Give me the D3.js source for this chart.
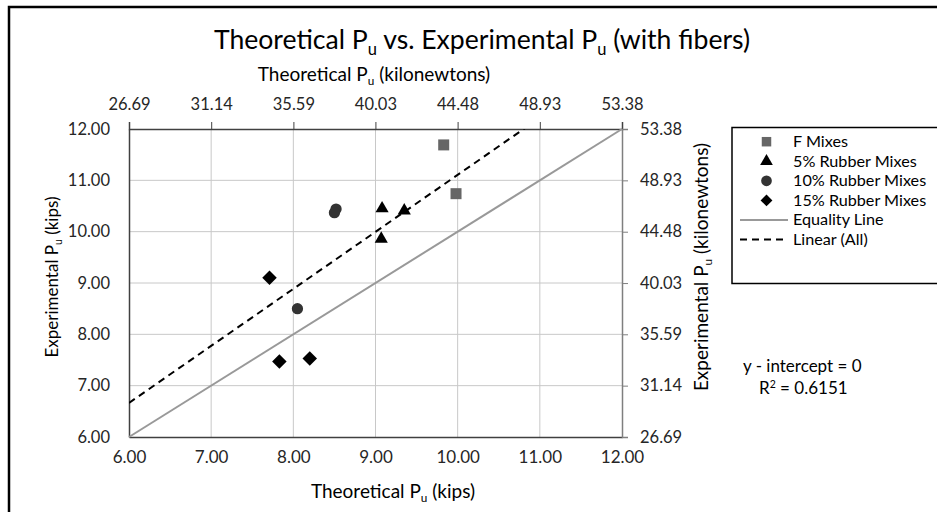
<!DOCTYPE html>
<html><head><meta charset="utf-8">
<script src="https://cdn.jsdelivr.net/npm/d3@7"></script>
<style>
body{margin:0;background:#fff;}
svg text{font-family:Lato,"Open Sans",sans-serif;}
</style></head>
<body><svg id="c" width="937" height="512"></svg>
<script>
// ---- data ----
const fMixesX = [9.83, 9.98];
const fMixesY = [11.69, 10.74];
const rubber5X = [9.08, 9.35, 9.07];
const rubber5Y = [10.45, 10.41, 9.86];
const rubber10X = [8.52, 8.50, 8.05];
const rubber10Y = [10.44, 10.37, 8.50];
const rubber15X = [7.71, 7.83, 8.20];
const rubber15Y = [9.10, 7.47, 7.53];
const kipsTicks = [6, 7, 8, 9, 10, 11, 12];
const kNTicks = [26.69, 31.14, 35.59, 40.03, 44.48, 48.93, 53.38];
const legendLabels = ["F Mixes", "5% Rubber Mixes", "10% Rubber Mixes", "15% Rubber Mixes", "Equality Line", "Linear (All)"];
const rSquared = "0.6151";

const svg = d3.select("#c");
const L = 129, R = 622, T = 129, B = 437;
const x = d3.scaleLinear().domain([6, 12]).range([L, R]);
const y = d3.scaleLinear().domain([6, 12]).range([B, T]);
const xk = d3.scaleLinear().domain([26.69, 53.38]).range([L, R]);
const yk = d3.scaleLinear().domain([26.69, 53.38]).range([B, T]);

// chart border
svg.append("rect").attr("x", 9).attr("y", 7).attr("width", 1000).attr("height", 600)
  .attr("fill", "none").attr("stroke", "#000").attr("stroke-width", 2.5);

// gridlines
svg.append("g").selectAll("line").data(kipsTicks.slice(1, -1)).join("line")
  .attr("x1", d => x(d)).attr("x2", d => x(d)).attr("y1", T).attr("y2", B)
  .attr("stroke", "#c8c8c8").attr("stroke-width", 1);
svg.append("g").selectAll("line").data(kipsTicks.slice(1, -1)).join("line")
  .attr("y1", d => y(d)).attr("y2", d => y(d)).attr("x1", L).attr("x2", R)
  .attr("stroke", "#c8c8c8").attr("stroke-width", 1);

// axes
const fmt = d3.format(".2f");
const bottomAx = svg.append("g").attr("transform", `translate(0,${B})`)
  .call(d3.axisBottom(x).tickValues(kipsTicks).tickFormat(fmt).tickSize(0).tickPadding(14));
const leftAx = svg.append("g").attr("transform", `translate(${L},0)`)
  .call(d3.axisLeft(y).tickValues(kipsTicks).tickFormat(fmt).tickSize(0).tickPadding(19));
const topAx = svg.append("g").attr("transform", `translate(0,${T})`)
  .call(d3.axisTop(xk).tickValues(kNTicks).tickFormat(fmt).tickSize(7).tickPadding(12));
const rightAx = svg.append("g").attr("transform", `translate(${R},0)`)
  .call(d3.axisRight(yk).tickValues(kNTicks).tickFormat(fmt).tickSize(6).tickPadding(12));
[bottomAx, leftAx, topAx, rightAx].forEach(g => {
  g.selectAll("text").attr("font-size", 16.5).attr("fill", "#262626")
    .attr("font-family", "Lato,'Open Sans',sans-serif");
  g.select(".domain").attr("stroke", "#404040").attr("stroke-width", 1.5);
  g.selectAll(".tick line").attr("stroke", "#404040");
});
bottomAx.selectAll("text").attr("font-size", 17);
rightAx.select(".domain").attr("stroke", "#7f7f7f");
rightAx.selectAll(".tick line").attr("stroke", "#7f7f7f");

// clip
svg.append("clipPath").attr("id", "clip").append("rect")
  .attr("x", L).attr("y", T).attr("width", R - L).attr("height", B - T);

// equality line
svg.append("line").attr("x1", x(6)).attr("y1", y(6)).attr("x2", x(12)).attr("y2", y(12))
  .attr("stroke", "#999").attr("stroke-width", 2);

// linear fit through origin
const allX = [...fMixesX, ...rubber5X, ...rubber10X, ...rubber15X];
const allY = [...fMixesY, ...rubber5Y, ...rubber10Y, ...rubber15Y];
const slope = d3.sum(allX, (d, i) => d * allY[i]) / d3.sum(allX, d => d * d);
svg.append("line").attr("clip-path", "url(#clip)")
  .attr("x1", x(6)).attr("y1", y(6 * slope)).attr("x2", x(12)).attr("y2", y(12 * slope))
  .attr("stroke", "#000").attr("stroke-width", 2).attr("stroke-dasharray", "7,5");

// markers
const sq = d3.symbol().type(d3.symbolSquare).size(121);
const tri = d3.symbol().type(d3.symbolTriangle).size(75);
const cir = d3.symbol().type(d3.symbolCircle).size(100);
const dia = d3.symbol().type(d3.symbolSquare).size(105);
function series(xs, ys, sym, color, rot) {
  svg.append("g").selectAll("path").data(xs).join("path")
    .attr("d", sym).attr("fill", color)
    .attr("transform", (d, i) => `translate(${x(d)},${y(ys[i])})` + (rot ? " rotate(45)" : ""));
}
series(fMixesX, fMixesY, sq, "#666");
series(rubber5X, rubber5Y, tri, "#000");
series(rubber10X, rubber10Y, cir, "#333");
series(rubber15X, rubber15Y, dia, "#000", true);

function lab(xPos, yPos, parts, size, anchor, rotate) {
  const t = svg.append("text").attr("x", xPos).attr("y", yPos)
    .attr("font-size", size).attr("fill", "#000").attr("text-anchor", anchor || "middle");
  if (rotate) t.attr("transform", `rotate(-90,${xPos},${yPos})`);
  let shifted = false;
  parts.forEach(p => {
    if (p === "_u") {
      t.append("tspan").text("u").attr("font-size", size * 0.62).attr("dy", size * 0.22);
      shifted = true;
    } else {
      t.append("tspan").text(p).attr("dy", shifted ? -size * 0.22 : 0);
      shifted = false;
    }
  });
  return t;
}
lab(482, 49, ["Theoretical P", "_u", " vs. Experimental P", "_u", " (with fibers)"], 26.6);
lab(374, 81, ["Theoretical P", "_u", " (kilonewtons)"], 19);
lab(393, 498, ["Theoretical P", "_u", " (kips)"], 19);
lab(58, 277, ["Experimental P", "_u", " (kips)"], 17, "middle", true);
lab(708, 267, ["Experimental P", "_u", " (kilonewtons)"], 19, "middle", true);

// annotation
svg.append("text").attr("x", 743).attr("y", 372).attr("font-size", 17).attr("fill", "#000")
  .text("y - intercept = 0");
const r2 = svg.append("text").attr("x", 759).attr("y", 394).attr("font-size", 17).attr("fill", "#000");
r2.append("tspan").text("R");
r2.append("tspan").text("2").attr("font-size", 10.5).attr("dy", -6.5);
r2.append("tspan").text(" = " + rSquared).attr("dy", 6.5);

// legend
const lg = svg.append("g");
lg.append("rect").attr("x", 732).attr("y", 127.5).attr("width", 300).attr("height", 156)
  .attr("fill", "#fff").attr("stroke", "#000").attr("stroke-width", 1.5);
const rowY = d3.scaleLinear().domain([0, 5]).range([141.7, 239.5]);
const legSyms = [
  {s: d3.symbol().type(d3.symbolSquare).size(90), c: "#666", r: 0},
  {s: d3.symbol().type(d3.symbolTriangle).size(70), c: "#000", r: 0},
  {s: d3.symbol().type(d3.symbolCircle).size(90), c: "#333", r: 0},
  {s: d3.symbol().type(d3.symbolSquare).size(70), c: "#000", r: 45}
];
legendLabels.forEach((lbl, i) => {
  const yy = rowY(i);
  if (i < 4) {
    lg.append("path").attr("d", legSyms[i].s).attr("fill", legSyms[i].c)
      .attr("transform", `translate(766.5,${yy}) rotate(${legSyms[i].r})`);
  } else if (i === 4) {
    lg.append("line").attr("x1", 740).attr("x2", 788).attr("y1", yy).attr("y2", yy)
      .attr("stroke", "#999").attr("stroke-width", 2);
  } else {
    lg.append("line").attr("x1", 740).attr("x2", 788).attr("y1", yy).attr("y2", yy)
      .attr("stroke", "#000").attr("stroke-width", 2).attr("stroke-dasharray", "7,5");
  }
  lg.append("text").attr("x", 793).attr("y", yy + 5.5).attr("font-size", 16.2)
    .attr("fill", "#000").text(lbl);
});
</script></body></html>
